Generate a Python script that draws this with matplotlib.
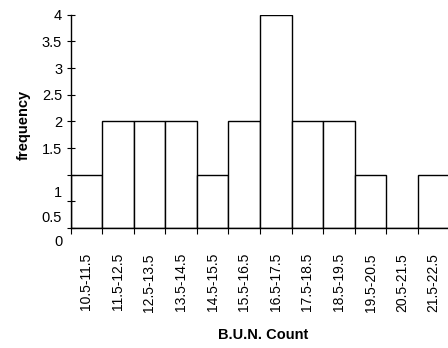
import matplotlib
matplotlib.use('Agg')
import matplotlib.pyplot as plt
import matplotlib.transforms as mtransforms
import numpy as np

# B.U.N. count histogram data
bins = ['10.5-11.5', '11.5-12.5', '12.5-13.5', '13.5-14.5', '14.5-15.5', '15.5-16.5',
        '16.5-17.5', '17.5-18.5', '18.5-19.5', '19.5-20.5', '20.5-21.5', '21.5-22.5']
freq = [1, 2, 2, 2, 1, 2, 4, 2, 2, 1, 0, 1]
ytick_vals = [0, 0.5, 1, 1.5, 2, 2.5, 3, 3.5, 4]
ytick_labels = ['0', '0.5', '1', '1.5', '2', '2.5', '3', '3.5', '4']

plt.rcParams['font.family'] = ['Liberation Sans', 'DejaVu Sans']

fig = plt.figure(figsize=(4.48, 3.48), dpi=100)
ax = fig.add_axes([70.5 / 448, 120 / 348, 379 / 448, 213.3 / 348])

x = np.arange(len(bins))
ax.bar(x, freq, width=1.0, align='edge', facecolor='white', edgecolor='black', linewidth=1.0)

ax.set_xlim(0, len(bins))
ax.set_ylim(0, 4)

ax.spines['top'].set_visible(False)
ax.spines['right'].set_visible(False)
ax.spines['left'].set_linewidth(1.0)
ax.spines['bottom'].set_linewidth(1.0)

# ticks on bin edges, labels centred under bars
ax.set_xticks(np.arange(len(bins) + 1))
ax.set_xticklabels([])
ax.set_xticks(x + 0.5, minor=True)
ax.set_xticklabels(bins, minor=True, rotation=90, fontsize=10)
ax.tick_params(axis='x', which='major', direction='out', length=4, width=0.8)
ax.tick_params(axis='x', which='minor', length=0, pad=18)

ax.set_yticks(ytick_vals)
ax.set_yticklabels(ytick_labels, fontsize=10.5)
ax.tick_params(axis='y', direction='inout', length=6, width=0.8, pad=3)

# the lower labels sit a bit below their ticks in the original
shifts = {'0': 9.0, '0.5': 11.0, '1': 12.0}
for lab in ax.get_yticklabels():
    if lab.get_text() in shifts:
        off = mtransforms.ScaledTranslation(0, -shifts[lab.get_text()] / 72, fig.dpi_scale_trans)
        lab.set_transform(lab.get_transform() + off)

fig.text(24 / 448, 1 - 125 / 348, 'frequency', rotation=90, ha='center', va='center',
         fontsize=10.5, fontweight='bold')
fig.text(263 / 448, 1 - 335 / 348, 'B.U.N. Count', ha='center', va='center',
         fontsize=10.5, fontweight='bold')

fig.savefig('out.png', dpi=100)
